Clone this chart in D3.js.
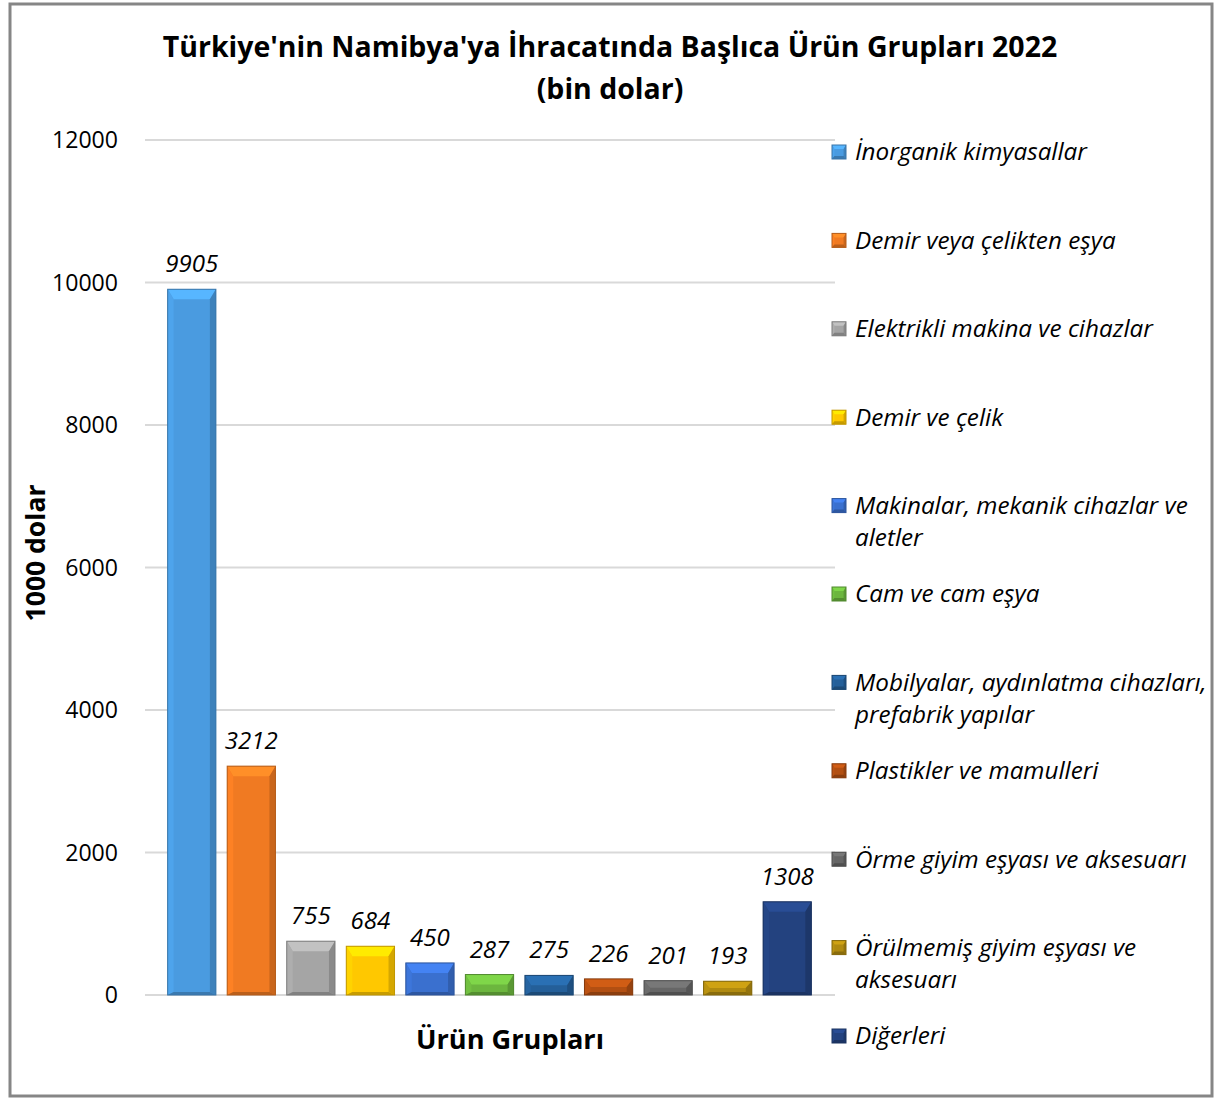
<!DOCTYPE html>
<html>
<head>
<meta charset="utf-8">
<script src="https://cdn.jsdelivr.net/npm/d3@7"></script>
<style>
  body { margin: 0; background: #fff; }
  svg { display: block; }
  text { font-family: "Open Sans", "Noto Sans", sans-serif; fill: #000; }
</style>
</head>
<body>
<div id="vis"></div>
<script>
const categories = ["İnorganik kimyasallar", "Demir veya çelikten eşya", "Elektrikli makina ve cihazlar",
  "Demir ve çelik", "Makinalar, mekanik cihazlar ve aletler", "Cam ve cam eşya",
  "Mobilyalar, aydınlatma cihazları, prefabrik yapılar", "Plastikler ve mamulleri",
  "Örme giyim eşyası ve aksesuarı", "Örülmemiş giyim eşyası ve aksesuarı", "Diğerleri"];
const values = [9905, 3212, 755, 684, 450, 287, 275, 226, 201, 193, 1308];
const legendLines = [["İnorganik kimyasallar"], ["Demir veya çelikten eşya"], ["Elektrikli makina ve cihazlar"],
  ["Demir ve çelik"], ["Makinalar, mekanik cihazlar ve", "aletler"], ["Cam ve cam eşya"],
  ["Mobilyalar, aydınlatma cihazları,", "prefabrik yapılar"], ["Plastikler ve mamulleri"],
  ["Örme giyim eşyası ve aksesuarı"], ["Örülmemiş giyim eşyası ve", "aksesuarı"], ["Diğerleri"]];
const colors = ["#4a9be0", "#f07a22", "#a5a5a5", "#ffc800", "#3a70cf", "#6cb63e",
  "#245f99", "#b24f12", "#666666", "#b08a10", "#23427f"];
const yTicks = [0, 2000, 4000, 6000, 8000, 10000, 12000];

const width = 1215, height = 1098;
const svg = d3.select("#vis").append("svg").attr("width", width).attr("height", height);

// fit a text element to a target width
const fitWidth = (sel, target) => {
  const node = sel.node();
  const size = parseFloat(sel.style("font-size"));
  sel.style("font-size", (size * target / node.getComputedTextLength()) + "px");
  return parseFloat(sel.style("font-size"));
};

// outer frame
svg.append("rect").attr("x", 10).attr("y", 4).attr("width", 1202).attr("height", 1092)
  .attr("fill", "#fff").attr("stroke", "#868686").attr("stroke-width", 3);

const x = d3.scaleBand().domain(categories).range([162, 817]).paddingInner(0.19).paddingOuter(0.095);
const y = d3.scaleLinear().domain([0, 12000]).range([995, 140]);

// gridlines
svg.append("g").selectAll("line").data(yTicks).enter().append("line")
  .attr("x1", 145).attr("x2", 835)
  .attr("y1", d => y(d)).attr("y2", d => y(d))
  .attr("stroke", "#d9d9d9").attr("stroke-width", 2);

// y tick labels
const tickG = svg.append("g");
tickG.selectAll("text").data(yTicks).enter().append("text")
  .attr("x", 118).attr("y", d => y(d)).attr("dy", "0.35em")
  .attr("text-anchor", "end").style("font-size", "23px")
  .text(d => d);
fitWidth(tickG.select("text:last-child"), 66);
const tickSize = tickG.select("text:last-child").style("font-size");
tickG.selectAll("text").style("font-size", tickSize);

// bevelled box
const bevel = (g, x0, y0, w, h, color, b) => {
  const c = d3.color(color);
  const bt = Math.min(b, h / 2), bs = Math.min(b * 0.6, w / 2);
  g.append("rect").attr("x", x0).attr("y", y0).attr("width", w).attr("height", h).attr("fill", c.formatHex());
  g.append("polygon").attr("fill", c.brighter(0.45).formatHex())
    .attr("points", [[x0, y0], [x0 + w, y0], [x0 + w - bs, y0 + bt], [x0 + bs, y0 + bt]].join(" "));
  g.append("polygon").attr("fill", c.brighter(0.15).formatHex())
    .attr("points", [[x0, y0], [x0 + bs, y0 + bt], [x0 + bs, y0 + h - 3], [x0, y0 + h]].join(" "));
  g.append("polygon").attr("fill", c.darker(0.5).formatHex())
    .attr("points", [[x0 + w, y0], [x0 + w - bs, y0 + bt], [x0 + w - bs, y0 + h - 3], [x0 + w, y0 + h]].join(" "));
  g.append("polygon").attr("fill", c.darker(0.7).formatHex())
    .attr("points", [[x0, y0 + h], [x0 + bs, y0 + h - 3], [x0 + w - bs, y0 + h - 3], [x0 + w, y0 + h]].join(" "));
  g.append("rect").attr("x", x0).attr("y", y0).attr("width", w).attr("height", h)
    .attr("fill", "none").attr("stroke", c.darker(0.8).formatHex()).attr("stroke-width", 1);
};

const barG = svg.append("g");
categories.forEach((cat, i) => {
  bevel(barG.append("g"), x(cat), y(values[i]), x.bandwidth(), y(0) - y(values[i]), colors[i], 10);
});

// value labels
const labG = svg.append("g");
labG.selectAll("text").data(values).enter().append("text")
  .attr("x", (d, i) => x(categories[i]) + x.bandwidth() / 2)
  .attr("y", d => y(d) - 17)
  .attr("text-anchor", "middle").style("font-style", "italic").style("font-size", "23px")
  .text(d => d);
fitWidth(labG.select("text"), 53);
labG.selectAll("text").style("font-size", labG.select("text").style("font-size"));

// legend
const legG = svg.append("g");
const legStep = 88.4;
legendLines.forEach((lines, i) => {
  const cy = 152 + i * legStep;
  bevel(legG.append("g"), 832, cy - 7, 14, 14, colors[i], 4);
  const t = legG.append("text").attr("class", "leg").attr("x", 855).attr("y", cy).attr("dy", "0.35em")
    .style("font-style", "italic").style("font-size", "20px");
  lines.forEach((ln, j) => {
    t.append("tspan").attr("x", 855).attr("dy", j === 0 ? "0.35em" : "32px").text(ln);
  });
  t.attr("dy", null);
});
const legFirst = legG.select("text.leg");
const legTmp = svg.append("text").style("font-style", "italic").style("font-size", "20px").text(legendLines[0][0]);
const legSize = fitWidth(legTmp, 232);
legTmp.remove();
legG.selectAll("text.leg").style("font-size", legSize + "px");

// title
const t1 = svg.append("text").attr("x", 610).attr("y", 57).attr("text-anchor", "middle")
  .style("font-weight", "bold").style("font-size", "25px")
  .text("Türkiye'nin Namibya'ya İhracatında Başlıca Ürün Grupları 2022");
const titleSize = fitWidth(t1, 895);
svg.append("text").attr("x", 610).attr("y", 99).attr("text-anchor", "middle")
  .style("font-weight", "bold").style("font-size", titleSize + "px")
  .text("(bin dolar)");

// axis titles
const xt = svg.append("text").attr("x", 510).attr("y", 1049).attr("text-anchor", "middle")
  .style("font-weight", "bold").style("font-size", "24px").text("Ürün Grupları");
fitWidth(xt, 188);
const yt = svg.append("text").attr("transform", "translate(45,553) rotate(-90)").attr("text-anchor", "middle")
  .style("font-weight", "bold").style("font-size", "24px").text("1000 dolar");
fitWidth(yt, 137);
</script>
</body>
</html>
